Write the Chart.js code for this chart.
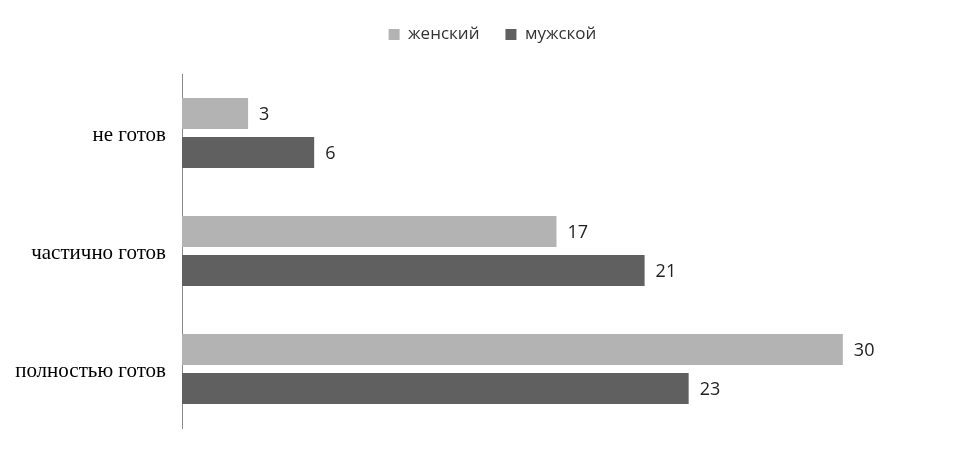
<!DOCTYPE html>
<html>
<head>
<meta charset="utf-8">
<script src="https://cdn.jsdelivr.net/npm/chart.js@4"></script>
<style>
html,body{margin:0;padding:0;background:#fff;}
#wrap{width:976px;height:452px;position:relative;}
</style>
</head>
<body>
<div id="wrap"><canvas id="c" width="976" height="452"></canvas></div>
<script>
const categories = ["не готов", "частично готов", "полностью готов"];
const seriesNames = ["женский", "мужской"];
const female = [3, 17, 30];
const male = [6, 21, 23];

const labelPlugin = {
  id: 'valueLabels',
  afterDatasetsDraw(chart) {
    const ctx = chart.ctx;
    ctx.save();
    ctx.font = '18px "Open Sans"';
    ctx.fillStyle = '#222';
    ctx.textBaseline = 'middle';
    ctx.textAlign = 'left';
    chart.data.datasets.forEach((ds, i) => {
      const meta = chart.getDatasetMeta(i);
      meta.data.forEach((bar, j) => {
        ctx.fillText(String(ds.data[j]), bar.x + 11, bar.y + 1);
      });
    });
    ctx.restore();
  }
};

const legendHeightPlugin = {
  id: 'legendHeight',
  afterInit(chart) {
    const lg = chart.legend;
    if (!lg) return;
    const origFit = lg.fit.bind(lg);
    lg.fit = function () { origFit(); this.height = 74; };
    const origDraw = lg.draw.bind(lg);
    lg.draw = function () {
      const ctx = chart.ctx;
      ctx.save();
      ctx.translate(16, 0);
      origDraw();
      ctx.restore();
    };
  }
};

new Chart(document.getElementById('c'), {
  type: 'bar',
  data: {
    labels: categories,
    datasets: [
      { label: seriesNames[0], data: female, backgroundColor: '#b3b3b3', categoryPercentage: 0.66, barPercentage: 0.8 },
      { label: seriesNames[1], data: male, backgroundColor: '#606060', categoryPercentage: 0.66, barPercentage: 0.8 }
    ]
  },
  options: {
    indexAxis: 'y',
    responsive: false,
    animation: false,
    layout: { padding: { top: 0, bottom: 24, left: 0, right: 23 } },
    plugins: {
      legend: {
        position: 'top',
        labels: {
          boxWidth: 11, boxHeight: 11, padding: 26,
          color: '#333333',
          font: { family: '"Open Sans"', size: 17 }
        }
      },
      tooltip: { enabled: false }
    },
    scales: {
      x: { display: false, min: 0, max: 35 },
      y: {
        afterFit(scale) { scale.width = 182; scale.paddingTop = 0; scale.paddingBottom = 0; },
        grid: { display: false, drawTicks: false },
        border: { display: true, color: '#8a8a8a', width: 1 },
        ticks: { color: '#000', padding: 16, labelOffset: 2, font: { family: '"Liberation Serif"', size: 21 } }
      }
    }
  },
  plugins: [labelPlugin, legendHeightPlugin]
});
</script>
</body>
</html>
